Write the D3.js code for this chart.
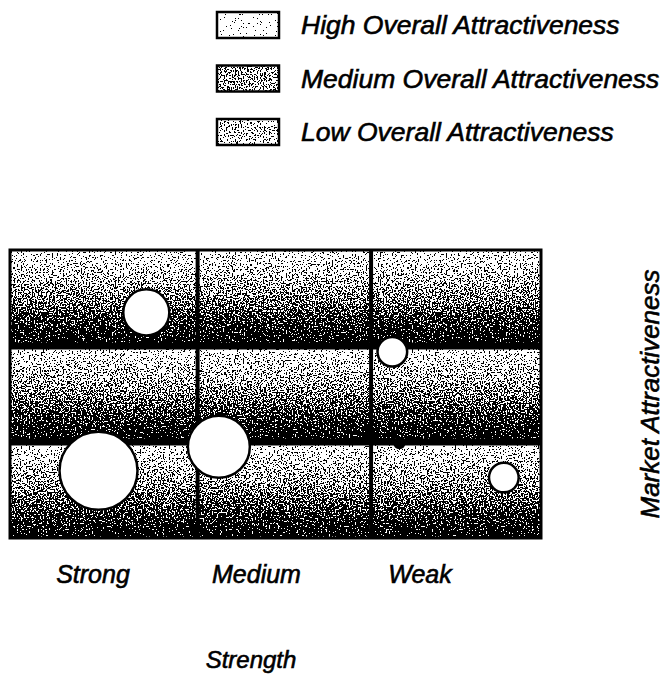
<!DOCTYPE html>
<html>
<head>
<meta charset="utf-8">
<script src="https://d3js.org/d3.v7.min.js"></script>
<style>
  body { margin: 0; background: #fff; }
  text { font-family: "Liberation Sans", Arial, sans-serif; font-style: italic; fill: #000;
         stroke: #000; stroke-width: 0.6px; }
</style>
</head>
<body>
<script>
// legend entries and their grey level (1 = white)
var legendLabels = ["High Overall Attractiveness", "Medium Overall Attractiveness", "Low Overall Attractiveness"];
var legendShades = [0.93, 0.6, 0.72];

// matrix categories
var strengthLabels = ["Strong", "Medium", "Weak"];
var attractLevels = ["High", "Medium", "Low"];
// column boundaries on the 0..3 strength scale
var strengthCuts = [0, 1.06, 2.04, 3];

// business units: strength 0..3 (strong -> weak), attractiveness 0..3 (low -> high), size
var unitStrength = [0.77, 0.50, 1.18, 2.16, 2.79, 2.20];
var unitAttract  = [2.35, 0.70, 0.95, 1.94, 0.63, 0.99];
var unitSize     = [53, 152, 96, 22, 22, 2.5];

var W = 666, H = 675;
var svg = d3.select("body").append("svg")
    .attr("width", W).attr("height", H);

var defs = svg.append("defs");

// halftone look: grey + noise, then threshold to black/white
var f = defs.append("filter").attr("id", "dither")
    .attr("x", 0).attr("y", 0).attr("width", "100%").attr("height", "100%")
    .attr("color-interpolation-filters", "sRGB");
f.append("feTurbulence").attr("type", "fractalNoise").attr("baseFrequency", 0.65)
    .attr("numOctaves", 1).attr("seed", 4).attr("result", "noise");
f.append("feColorMatrix").attr("in", "noise").attr("type", "matrix")
    .attr("values", "2.4 0 0 0 -0.7  2.4 0 0 0 -0.7  2.4 0 0 0 -0.7  0 0 0 0 1")
    .attr("result", "gn");
f.append("feComposite").attr("in", "SourceGraphic").attr("in2", "gn")
    .attr("operator", "arithmetic").attr("k1", 0).attr("k2", 1).attr("k3", 1).attr("k4", -0.5)
    .attr("result", "sum");
var ct = f.append("feComponentTransfer").attr("in", "sum");
["feFuncR", "feFuncG", "feFuncB"].forEach(function(n) {
  ct.append(n).attr("type", "discrete").attr("tableValues", "0 1");
});

// each row: light at the top, dark at the bottom
var grad = defs.append("linearGradient").attr("id", "rowGrad")
    .attr("x1", 0).attr("y1", 0).attr("x2", 0).attr("y2", 1);
grad.append("stop").attr("offset", "0%").attr("stop-color", "#d2d2d2");
grad.append("stop").attr("offset", "45%").attr("stop-color", "#8c8c8c");
grad.append("stop").attr("offset", "100%").attr("stop-color", "#151515");

// scales
var gLeft = 10, gRight = 541, gTop = 250, gBottom = 538;
var row = d3.scaleBand().domain(attractLevels).range([gTop, gBottom]);
var x = d3.scaleLinear().domain([0, 3]).range([gLeft, gRight]);
var y = d3.scaleLinear().domain([0, 3]).range([gBottom, gTop]);
var r = d3.scaleSqrt().domain([0, d3.max(unitSize)]).range([0, 39]);
var labelX = d3.scalePoint().domain(strengthLabels).range([93, 420]);
var legendY = d3.scalePoint().domain(legendLabels).range([25, 132]);

// cells
var cells = [];
attractLevels.forEach(function(a) {
  strengthLabels.forEach(function(s, j) { cells.push({a: a, x0: strengthCuts[j], x1: strengthCuts[j + 1]}); });
});
svg.append("g").selectAll("rect").data(cells).enter().append("rect")
    .attr("x", function(d) { return x(d.x0); })
    .attr("y", function(d) { return row(d.a); })
    .attr("width", function(d) { return x(d.x1) - x(d.x0); })
    .attr("height", row.bandwidth())
    .attr("fill", "url(#rowGrad)")
    .attr("filter", "url(#dither)");

// grid lines
var grid = svg.append("g").attr("stroke", "#000");
grid.selectAll(".vline").data(strengthCuts.slice(1, -1)).enter().append("line")
    .attr("x1", function(d) { return x(d); }).attr("x2", function(d) { return x(d); })
    .attr("y1", gTop).attr("y2", gBottom).attr("stroke-width", 4);
grid.selectAll(".hline").data(attractLevels.slice(1)).enter().append("line")
    .attr("y1", function(d) { return row(d); }).attr("y2", function(d) { return row(d); })
    .attr("x1", gLeft).attr("x2", gRight).attr("stroke-width", 7);
grid.append("rect").attr("x", gLeft).attr("y", gTop)
    .attr("width", gRight - gLeft).attr("height", gBottom - gTop)
    .attr("fill", "none").attr("stroke-width", 3);

// bubbles
svg.append("g").selectAll("circle").data(unitSize).enter().append("circle")
    .attr("cx", function(d, i) { return x(unitStrength[i]); })
    .attr("cy", function(d, i) { return y(unitAttract[i]); })
    .attr("r", function(d) { return r(d); })
    .attr("fill", function(d) { return r(d) < 8 ? "#000" : "#fff"; })
    .attr("stroke", "#000").attr("stroke-width", 2.5);

// legend
var lg = svg.append("g").selectAll("g").data(legendLabels).enter().append("g")
    .attr("transform", function(d) { return "translate(0," + legendY(d) + ")"; });
lg.append("rect")
    .attr("x", 217).attr("y", -13).attr("width", 62).attr("height", 26)
    .attr("fill", function(d, i) { var v = Math.round(legendShades[i] * 255); return d3.rgb(v, v, v); })
    .attr("filter", "url(#dither)");
lg.append("rect")
    .attr("x", 217).attr("y", -13).attr("width", 62).attr("height", 26)
    .attr("fill", "none").attr("stroke", "#000").attr("stroke-width", 2.5);
lg.append("text")
    .attr("x", 301).attr("y", 9)
    .style("font-size", "26.5px")
    .text(function(d) { return d; });

// column labels
svg.append("g").selectAll("text").data(strengthLabels).enter().append("text")
    .attr("x", function(d) { return labelX(d); })
    .attr("y", 583)
    .attr("text-anchor", "middle")
    .style("font-size", "25px")
    .text(function(d) { return d; });

// axis titles
svg.append("text")
    .attr("x", 251).attr("y", 668)
    .attr("text-anchor", "middle")
    .style("font-size", "24px")
    .text("Strength");

svg.append("text")
    .attr("transform", "translate(659," + (gTop + gBottom) / 2 + ") rotate(-90)")
    .attr("text-anchor", "middle")
    .style("font-size", "26px")
    .text("Market Attractiveness");
</script>
</body>
</html>
